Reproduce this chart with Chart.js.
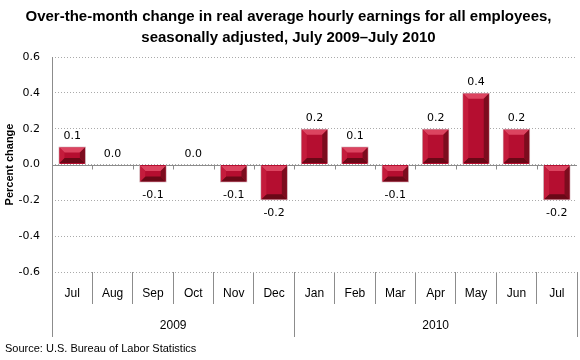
<!DOCTYPE html>
<html lang="en">
<head>
    <meta charset="utf-8"/>
    <title>Real average hourly earnings</title>
    <script src="https://cdn.jsdelivr.net/npm/chart.js@4.4.0/dist/chart.umd.min.js"></script>
    <style>
        body { margin: 0; background: #fff; }
        #wrap { width: 580px; height: 360px; }
    </style>
</head>
<body>
    <div id="wrap"><canvas id="chart"></canvas></div>
    <script>
        // data
        const months = ["Jul", "Aug", "Sep", "Oct", "Nov", "Dec", "Jan", "Feb", "Mar", "Apr", "May", "Jun", "Jul"];
        const changes = [0.1, 0.0, -0.1, 0.0, -0.1, -0.2, 0.2, 0.1, -0.1, 0.2, 0.4, 0.2, -0.2];
        const years = ["2009", "2010"];
        const yearSpans = [6, 7];
        const yMin = -0.6, yMax = 0.6, yStep = 0.2;

        const axisGray = "#8c8c8c";

        // zero line with little ticks between months, drawn behind the bars
        const zeroLine = {
            id: "zeroLine",
            beforeDatasetsDraw(chart) {
                const { ctx, chartArea, scales: { x, y } } = chart;
                const y0 = Math.round(y.getPixelForValue(0)) + 0.5;
                const half = (x.getPixelForValue(1) - x.getPixelForValue(0)) / 2;
                ctx.save();
                ctx.strokeStyle = axisGray;
                ctx.lineWidth = 1;
                ctx.beginPath();
                ctx.moveTo(chartArea.left, y0);
                ctx.lineTo(chartArea.right, y0);
                for (let i = 1; i < months.length; i++) {
                    const px = Math.round(x.getPixelForValue(i) - half) + 0.5;
                    ctx.moveTo(px, y0);
                    ctx.lineTo(px, y0 + 4);
                }
                ctx.stroke();
                ctx.restore();
            }
        };

        // bevel look on each bar
        const bevel = {
            id: "bevel",
            afterDatasetsDraw(chart) {
                const ctx = chart.ctx;
                chart.getDatasetMeta(0).data.forEach(bar => {
                    const p = bar.getProps(["x", "y", "base", "width"], true);
                    const l = p.x - p.width / 2 + 1, r = p.x + p.width / 2 - 1;
                    const t = Math.min(p.y, p.base) + 1, b = Math.max(p.y, p.base) - 1;
                    if (b - t < 3) return;
                    const s = Math.min(5, (b - t) / 3);
                    const poly = (pts, col) => {
                        ctx.fillStyle = col;
                        ctx.beginPath();
                        ctx.moveTo(pts[0][0], pts[0][1]);
                        pts.slice(1).forEach(q => ctx.lineTo(q[0], q[1]));
                        ctx.closePath();
                        ctx.fill();
                    };
                    ctx.save();
                    poly([[l, t], [r, t], [r - s, t + s], [l + s, t + s]], "#dc4460");
                    poly([[l, b], [r, b], [r - s, b - s], [l + s, b - s]], "#6a0817");
                    poly([[l, t], [l + s, t + s], [l + s, b - s], [l, b]], "#c41c3c");
                    poly([[r, t], [r - s, t + s], [r - s, b - s], [r, b]], "#7c0c1e");
                    ctx.restore();
                });
            }
        };

        // value labels above / below bars
        const valueLabels = {
            id: "valueLabels",
            afterDatasetsDraw(chart) {
                const ctx = chart.ctx;
                ctx.save();
                ctx.font = "11px 'DejaVu Sans'";
                ctx.fillStyle = "#000";
                ctx.textAlign = "center";
                chart.getDatasetMeta(0).data.forEach((bar, i) => {
                    const v = changes[i];
                    if (v >= 0) {
                        ctx.textBaseline = "bottom";
                        ctx.fillText(v.toFixed(1), bar.x, bar.y - 5);
                    } else {
                        ctx.textBaseline = "top";
                        ctx.fillText(v.toFixed(1), bar.x, bar.y + 7);
                    }
                });
                ctx.restore();
            }
        };

        // left axis line, year row and source note
        const frame = {
            id: "frame",
            afterDraw(chart) {
                const { ctx, chartArea, scales: { x } } = chart;
                const half = (x.getPixelForValue(1) - x.getPixelForValue(0)) / 2;
                const bottom = 337;
                ctx.save();
                ctx.strokeStyle = axisGray;
                ctx.lineWidth = 1;
                ctx.beginPath();
                const lx = Math.round(chartArea.left) + 0.5;
                ctx.moveTo(lx, chartArea.top);
                ctx.lineTo(lx, bottom);
                let start = 0;
                ctx.font = "12px 'Liberation Sans'";
                ctx.fillStyle = "#000";
                ctx.textAlign = "center";
                ctx.textBaseline = "middle";
                years.forEach((yr, k) => {
                    const end = start + yearSpans[k] - 1;
                    const x1 = x.getPixelForValue(start) - half;
                    const x2 = x.getPixelForValue(end) + half;
                    const ex = Math.round(x2) + 0.5;
                    ctx.moveTo(ex, chartArea.bottom);
                    ctx.lineTo(ex, bottom);
                    ctx.fillText(yr, (x1 + x2) / 2, 326);
                    start = end + 1;
                });
                ctx.stroke();
                ctx.textAlign = "left";
                ctx.font = "11px 'Liberation Sans'";
                ctx.fillText("Source: U.S. Bureau of Labor Statistics", 5, 349);
                ctx.restore();
            }
        };

        new Chart(document.getElementById("chart"), {
            type: "bar",
            data: {
                labels: months,
                datasets: [{
                    data: changes,
                    backgroundColor: "#b50e30",
                    borderColor: "#c9a2aa",
                    borderWidth: 1,
                    barPercentage: 0.68,
                    categoryPercentage: 1
                }]
            },
            options: {
                responsive: true,
                maintainAspectRatio: false,
                animation: false,
                layout: { padding: { right: 3 } },
                plugins: {
                    legend: { display: false },
                    tooltip: { enabled: false },
                    title: {
                        display: true,
                        text: ["Over-the-month change in real average hourly earnings for all employees,",
                               "seasonally adjusted, July 2009\u2013July 2010"],
                        color: "#000",
                        font: { family: "'Liberation Sans'", size: 15, weight: "bold", lineHeight: 1.4 },
                        padding: { top: 6, bottom: 9 }
                    }
                },
                scales: {
                    x: {
                        afterFit: s => { s.height = 88; },
                        grid: { drawOnChartArea: false, offset: true, tickLength: 32, color: axisGray },
                        border: { display: false },
                        ticks: { padding: -18, color: "#000", font: { family: "'Liberation Sans'", size: 12 } }
                    },
                    y: {
                        min: yMin,
                        max: yMax,
                        afterFit: s => { s.width = 52; },
                        ticks: {
                            stepSize: yStep,
                            padding: 12,
                            color: "#000",
                            font: { family: "'DejaVu Sans'", size: 11 },
                            callback: v => v.toFixed(1)
                        },
                        grid: { color: "#aaaaaa", drawTicks: false },
                        border: { display: false, dash: [1, 2] },
                        title: {
                            display: true,
                            text: "Percent change",
                            color: "#000",
                            font: { family: "'Liberation Sans'", size: 11, weight: "bold" },
                            padding: { top: 3, bottom: 0 }
                        }
                    }
                }
            },
            plugins: [zeroLine, bevel, valueLabels, frame]
        });
    </script>
</body>
</html>
